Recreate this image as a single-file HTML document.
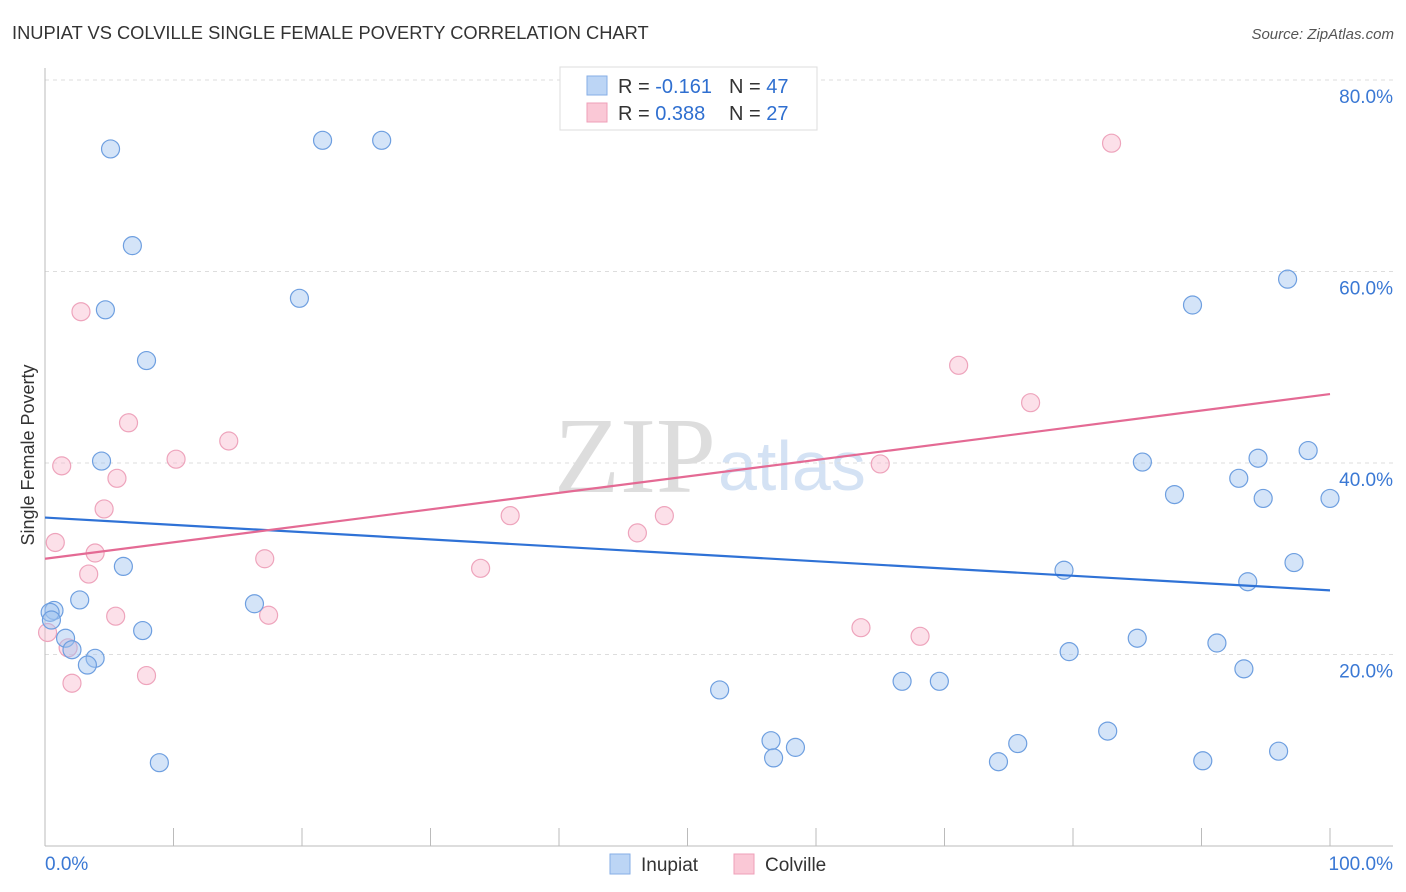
<!DOCTYPE html>
<html><head><meta charset="utf-8"><style>
body{margin:0;background:#fff;font-family:"Liberation Sans",sans-serif}
svg{display:block}
</style></head><body>
<svg id="chart" width="1406" height="892">
<text x="12" y="39" font-size="18.3" fill="#333">INUPIAT VS COLVILLE SINGLE FEMALE POVERTY CORRELATION CHART</text>
<text x="1394" y="39" font-size="15" fill="#555" font-style="italic" text-anchor="end">Source: ZipAtlas.com</text>
<text x="0" y="0" transform="translate(34,455) rotate(-90)" font-size="18" fill="#333" text-anchor="middle">Single Female Poverty</text>
<text x="716" y="492" font-size="108" fill="#ddd" text-anchor="end" font-family="Liberation Serif">ZIP</text>
<text x="718" y="490" font-size="70" fill="#d4e2f4">atlas</text>
<g id="grid"></g><g id="marks"></g>
<g>
<rect x="560" y="67" width="257" height="63" fill="#fff" stroke="#ddd"/>
<rect x="587" y="76" width="20" height="19" fill="#bcd5f5" stroke="#86aee6"/>
<rect x="587" y="103" width="20" height="19" fill="#fac8d6" stroke="#ef9fb8"/>
<text x="618" y="93" font-size="20" fill="#333">R = <tspan fill="#2f6fd0">-0.161</tspan><tspan x="729">N = </tspan><tspan fill="#2f6fd0">47</tspan></text>
<text x="618" y="120" font-size="20" fill="#333">R = <tspan fill="#2f6fd0"> 0.388</tspan><tspan x="729">N = </tspan><tspan fill="#2f6fd0">27</tspan></text>
</g>
<g>
<rect x="610" y="854" width="20" height="20" fill="#bcd5f5" stroke="#86aee6"/>
<text x="641" y="871" font-size="19" fill="#333">Inupiat</text>
<rect x="734" y="854" width="20" height="20" fill="#fac8d6" stroke="#ef9fb8"/>
<text x="765" y="871" font-size="19" fill="#333">Colville</text>
</g>
</svg>
<script>
const yTicks=[20,40,60,80];
const yTickLabels=["20.0%","40.0%","60.0%","80.0%"];
const xEndLabels=["0.0%","100.0%"];
const inupiatX=[5.1,21.6,26.2,6.8,4.7,19.8,7.9,4.4,6.1,2.7,0.7,0.4,1.6,2.1,3.9,3.3,7.6,8.9,16.3,52.5,56.5,56.7,58.4,66.7,69.6,74.2,75.7,79.3,79.7,82.7,85.0,85.4,87.9,89.3,90.1,91.2,92.9,93.3,94.4,94.8,96.7,93.6,96.0,97.2,98.3,100,0.5];
const inupiatY=[72.8,73.7,73.7,62.7,56.0,57.2,50.7,40.2,29.2,25.7,24.6,24.4,21.7,20.5,19.6,18.9,22.5,8.7,25.3,16.3,11.0,9.2,10.3,17.2,17.2,8.8,10.7,28.8,20.3,12.0,21.7,40.1,36.7,56.5,8.9,21.2,38.4,18.5,40.5,36.3,59.2,27.6,9.9,29.6,41.3,36.3,23.6];
const colvilleX=[2.8,1.3,6.5,5.6,4.6,0.8,3.9,3.4,5.5,2.1,7.9,10.2,14.3,17.1,17.4,33.9,36.2,46.1,48.2,63.5,65.0,68.1,71.1,76.7,83.0,0.2,1.8];
const colvilleY=[55.8,39.7,44.2,38.4,35.2,31.7,30.6,28.4,24.0,17.0,17.8,40.4,42.3,30.0,24.1,29.0,34.5,32.7,34.5,22.8,39.9,21.9,50.2,46.3,73.4,22.3,20.7];
const inupiatTrend=[34.3,26.7];
const colvilleTrend=[30.0,47.2];
const NS="http://www.w3.org/2000/svg";
const X=v=>45+v*12.85, Y=v=>846-v*9.575;
function mk(tag,attrs,parent){const e=document.createElementNS(NS,tag);for(const k in attrs)e.setAttribute(k,attrs[k]);parent.appendChild(e);return e;}
const grid=document.getElementById('grid'), marks=document.getElementById('marks');
yTicks.forEach((t,i)=>{
 const l=mk('line',{x1:45,x2:1393,y1:Y(t),y2:Y(t),stroke:'#ddd','stroke-dasharray':'4,4'},grid);
 
 
 const tx=mk('text',{x:1393,y:Y(t)+23,'font-size':19,fill:'#3a78d4','text-anchor':'end'},grid);
 tx.textContent=yTickLabels[i];
 
 
});
const ax=mk('line',{x1:45,x2:45,y1:68,y2:846,stroke:'#bbb'},grid);


const bx=mk('line',{x1:45,x2:1393,y1:846,y2:846,stroke:'#bbb'},grid);


for(let t=10;t<=100;t+=10){
 const k=mk('line',{x1:X(t),x2:X(t),y1:828,y2:846,stroke:'#bbb'},grid);
 
 
}
[[0,'start',45],[100,'end',1393]].forEach((d,i)=>{
 const tx=mk('text',{x:d[2],y:870,'font-size':19,fill:'#3a78d4','text-anchor':d[1]},grid);
 tx.textContent=xEndLabels[i];
 
 
});
function pts(xs,ys,fill,stroke,name){xs.forEach((x,i)=>{
 const c=mk('circle',{cx:X(x),cy:Y(ys[i]),r:9,fill:fill,stroke:stroke,'stroke-width':1.2},marks);
 
 
});}
pts(colvilleX,colvilleY,'rgba(248,186,206,0.45)','#eea4bc','colville-point');
pts(inupiatX,inupiatY,'rgba(160,196,240,0.45)','#6e9fe0','inupiat-point');
const l1=mk('line',{x1:X(0),x2:X(100),y1:Y(inupiatTrend[0]),y2:Y(inupiatTrend[1]),stroke:'#2f72d6','stroke-width':2.2},marks);


const l2=mk('line',{x1:X(0),x2:X(100),y1:Y(colvilleTrend[0]),y2:Y(colvilleTrend[1]),stroke:'#e46a94','stroke-width':2.2},marks);


</script>
</body></html>
